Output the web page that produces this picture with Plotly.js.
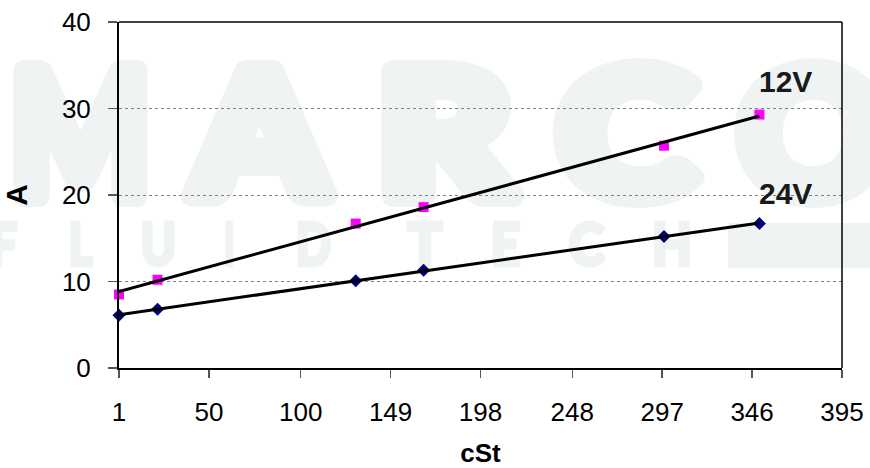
<!DOCTYPE html>
<html><head><meta charset="utf-8">
<script src="https://cdn.plot.ly/plotly-3.0.1.min.js"></script>
<style>
html,body{margin:0;padding:0;background:#fff;}
#wrap{position:relative;width:870px;height:468px;overflow:hidden;background:#fff;}
#wm{position:absolute;left:0;top:0;z-index:0;}
#chart{position:absolute;left:0;top:0;width:870px;height:468px;z-index:1;}
</style></head>
<body>
<div id="wrap">
<svg id="wm" width="870" height="468" xmlns="http://www.w3.org/2000/svg">
  <g fill="#eff3f4" stroke="#eff3f4" stroke-width="22" stroke-linejoin="round" font-family="Lato, 'Noto Sans', sans-serif" font-weight="700">
    <text x="11" y="196" font-size="172" textLength="139" lengthAdjust="spacingAndGlyphs">M</text>
    <text x="194" y="196" font-size="172" textLength="131" lengthAdjust="spacingAndGlyphs">A</text>
    <text x="378" y="196" font-size="172" textLength="133" lengthAdjust="spacingAndGlyphs">R</text>
    <text x="558" y="196" font-size="172" textLength="136" lengthAdjust="spacingAndGlyphs">C</text>
    <text x="739" y="196" font-size="172" textLength="148" lengthAdjust="spacingAndGlyphs">O</text>
  </g>
  <g fill="#eff3f4" stroke="#eff3f4" stroke-width="5" stroke-linejoin="round" font-family="Lato, 'Noto Sans', sans-serif" font-weight="700">
    <text x="-10" y="265" font-size="58" textLength="27" lengthAdjust="spacingAndGlyphs">F</text>
    <text x="69" y="265" font-size="58" textLength="23" lengthAdjust="spacingAndGlyphs">L</text>
    <text x="141" y="265" font-size="58" textLength="35" lengthAdjust="spacingAndGlyphs">U</text>
    <text x="224" y="265" font-size="58" textLength="10" lengthAdjust="spacingAndGlyphs">I</text>
    <text x="296" y="265" font-size="58" textLength="35" lengthAdjust="spacingAndGlyphs">D</text>
    <text x="408" y="265" font-size="58" textLength="34" lengthAdjust="spacingAndGlyphs">T</text>
    <text x="491" y="265" font-size="58" textLength="29" lengthAdjust="spacingAndGlyphs">E</text>
    <text x="569" y="265" font-size="58" textLength="35" lengthAdjust="spacingAndGlyphs">C</text>
    <text x="652" y="265" font-size="58" textLength="40" lengthAdjust="spacingAndGlyphs">H</text>
  </g>
  <rect x="728" y="223" width="142" height="45" fill="#eff3f4"/>
</svg>
<div id="chart"></div>
</div>
<script>
// Data
const viscosity = [1, 22, 130, 167, 298, 350];          // cSt
const current12V = [8.5, 10.2, 16.7, 18.6, 25.7, 29.3];   // A
const current24V = [6.1, 6.8, 10.1, 11.3, 15.2, 16.7];    // A
const xTickLabels = ['1', '50', '100', '149', '198', '248', '297', '346', '395'];
const yTickLabels = ['0', '10', '20', '30', '40'];
const seriesNames = ['12V', '24V'];

function linFit(xs, ys) {
  const n = xs.length;
  const mx = xs.reduce((a, b) => a + b, 0) / n;
  const my = ys.reduce((a, b) => a + b, 0) / n;
  let sxy = 0, sxx = 0;
  for (let i = 0; i < n; i++) { sxy += (xs[i] - mx) * (ys[i] - my); sxx += (xs[i] - mx) ** 2; }
  const m = sxy / sxx;
  const b = my - m * mx;
  const x0 = Math.min(...xs), x1 = Math.max(...xs);
  return { x: [x0, x1], y: [m * x0 + b, m * x1 + b] };
}

const fit12 = linFit(viscosity, current12V);
const fit24 = linFit(viscosity, current24V);

const traces = [
  { x: viscosity, y: current12V, name: seriesNames[0], mode: 'markers', type: 'scatter', cliponaxis: false,
    marker: { symbol: 'square', size: 10, color: '#ff00ff' } },
  { x: viscosity, y: current24V, name: seriesNames[1], mode: 'markers', type: 'scatter', cliponaxis: false,
    marker: { symbol: 'diamond', size: 10, color: '#000080' } },
  { x: fit12.x, y: fit12.y, mode: 'lines', type: 'scatter', cliponaxis: false, line: { color: '#000', width: 3 } },
  { x: fit24.x, y: fit24.y, mode: 'lines', type: 'scatter', cliponaxis: false, line: { color: '#000', width: 3 } }
];

const font = 'Liberation Sans, Arial, sans-serif';
const last = viscosity.length - 1;

const layout = {
  width: 870, height: 468,
  margin: { l: 119, r: 28, t: 22, b: 100 },
  paper_bgcolor: 'rgba(0,0,0,0)', plot_bgcolor: 'rgba(0,0,0,0)',
  showlegend: false,
  hovermode: false,
  font: { family: font, color: '#000', size: 26 },
  xaxis: {
    range: [1, 395],
    tickmode: 'array',
    tickvals: xTickLabels.map(Number),
    ticktext: xTickLabels,
    ticks: 'outside', ticklen: 8, tickwidth: 1.5, tickcolor: '#555',
    showgrid: false, zeroline: false,
    showline: true, linecolor: '#000', linewidth: 2,
    tickfont: { family: font, size: 26, color: '#000' },
    ticklabelstandoff: 12,
    title: { text: '<b>cSt</b>', font: { family: font, size: 26, color: '#000' }, standoff: 18 }
  },
  yaxis: {
    range: [0, 40],
    tickmode: 'array',
    tickvals: yTickLabels.map(Number),
    ticktext: yTickLabels,
    ticks: 'outside', ticklen: 9, tickwidth: 1.5, tickcolor: '#555',
    showgrid: true, gridcolor: '#808080', gridwidth: 1, griddash: 'dot',
    zeroline: false,
    showline: true, linecolor: '#000', linewidth: 2,
    tickfont: { family: font, size: 26, color: '#000' },
    ticklabelstandoff: 12,
    title: { text: '<b>A</b>', font: { family: font, size: 30, color: '#000' }, standoff: 28 }
  },
  shapes: [
    { type: 'line', xref: 'paper', yref: 'paper', x0: 0, x1: 1, y0: 1, y1: 1, line: { color: '#000', width: 1.5 } },
    { type: 'line', xref: 'paper', yref: 'paper', x0: 1, x1: 1, y0: 0, y1: 1, line: { color: '#000', width: 1.5 } }
  ],
  annotations: [
    { x: viscosity[last], y: current12V[last], text: '<b>' + seriesNames[0] + '</b>', showarrow: false,
      xshift: 26, yshift: 33, font: { family: font, size: 30, color: '#1a1a1a' } },
    { x: viscosity[last], y: current24V[last], text: '<b>' + seriesNames[1] + '</b>', showarrow: false,
      xshift: 26, yshift: 30, font: { family: font, size: 30, color: '#1a1a1a' } }
  ]
};

Plotly.newPlot('chart', traces, layout, { displayModeBar: false, staticPlot: true });
</script>
</body></html>
